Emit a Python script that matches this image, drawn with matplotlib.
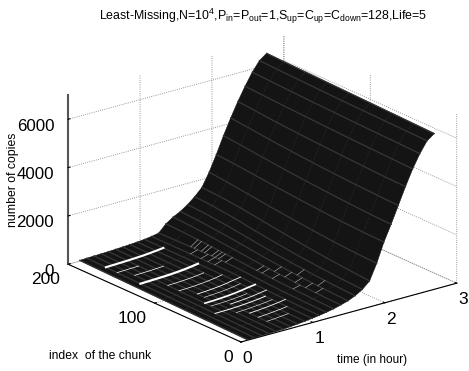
import matplotlib
matplotlib.use('Agg')
import matplotlib.pyplot as plt
import numpy as np
from mpl_toolkits.mplot3d import proj3d

plt.rcParams['font.family'] = ['Liberation Sans', 'DejaVu Sans']
plt.rcParams['mathtext.fontset'] = 'custom'
plt.rcParams['mathtext.rm'] = 'Liberation Sans'
plt.rcParams['mathtext.default'] = 'rm'

# hours, one column per mesh line
times = [0.1, 0.2, 0.3, 0.4, 0.5, 0.6, 0.7, 0.8, 0.9, 1.0, 1.1, 1.2, 1.3, 1.4,
         1.5, 1.6, 1.7, 1.8, 1.9, 2.0, 2.1, 2.2, 2.3, 2.4, 2.5, 2.6, 2.7]
chunks = [1, 25, 50, 75, 100, 125, 150, 175, 195]
copies = [
    [0, 0, 5, 10, 20, 30, 50, 80, 110, 150, 190, 240, 300, 380, 470, 600, 780, 1050, 1700, 2500, 3150, 3850, 4550, 5200, 5750, 6200, 6420],
    [20, 20, 25, 30, 40, 50, 70, 100, 130, 170, 210, 260, 330, 410, 510, 640, 830, 1120, 1730, 2520, 3180, 3880, 4570, 5230, 5780, 6220, 6445],
    [40, 45, 50, 55, 60, 75, 95, 120, 150, 190, 240, 290, 370, 450, 560, 700, 900, 1200, 1790, 2560, 3230, 3920, 4610, 5260, 5800, 6240, 6470],
    [60, 65, 70, 75, 85, 100, 120, 150, 190, 240, 280, 340, 420, 520, 630, 780, 980, 1300, 1870, 2620, 3290, 3970, 4650, 5290, 5830, 6260, 6495],
    [80, 85, 90, 100, 110, 125, 150, 180, 220, 280, 330, 400, 490, 600, 720, 880, 1090, 1420, 1960, 2690, 3360, 4030, 4700, 5330, 5860, 6280, 6520],
    [100, 105, 115, 125, 135, 150, 170, 200, 240, 290, 340, 440, 560, 690, 830, 1000, 1210, 1540, 2060, 2770, 3440, 4100, 4750, 5370, 5890, 6310, 6545],
    [120, 125, 135, 145, 155, 170, 190, 215, 250, 290, 340, 430, 620, 780, 930, 1120, 1350, 1670, 2170, 2860, 3530, 4180, 4810, 5410, 5930, 6340, 6570],
    [140, 150, 160, 170, 180, 195, 210, 235, 265, 300, 340, 410, 670, 860, 1010, 1210, 1450, 1760, 2280, 2950, 3630, 4280, 4890, 5460, 5970, 6370, 6595],
    [160, 170, 180, 190, 200, 215, 230, 250, 270, 300, 340, 400, 700, 900, 1050, 1250, 1500, 1800, 2350, 3000, 3700, 4350, 4950, 5500, 6000, 6400, 6620],
]
# (chunk index, first hour, last hour) of the gaps in the mesh
gap_chunk = [173, 133, 75, 55, 160, 148, 118, 105, 92, 62, 40, 30, 20, 84, 68, 47]
gap_start = [0.2, 0.2, 0.4, 0.3, 0.2, 0.3, 0.4, 0.4, 0.5, 0.6, 0.6, 0.6, 0.6, 0.5, 0.4, 0.5]
gap_end = [1.0, 1.0, 1.1, 1.0, 0.5, 0.7, 0.9, 1.0, 1.1, 1.1, 1.1, 1.0, 0.9, 1.0, 0.9, 1.0]
gap_width = [1.5, 1.6, 1.2, 0.7, 0.5, 0.5, 0.5, 0.5, 0.6, 0.6, 0.6, 0.5, 0.4, 0.4, 0.4, 0.4]
# short bright dashes where the mesh opens up on the first rise
dash_chunk = [118, 122, 126, 130, 134, 138, 142, 146, 150, 154, 158, 30, 36, 42, 48, 54, 60, 66, 72, 78, 84, 90]
dash_start = [1.2, 1.1, 1.2, 1.1, 1.2, 1.1, 1.2, 1.2, 1.1, 1.2, 1.2, 1.4, 1.5, 1.4, 1.3, 1.4, 1.5, 1.4, 1.3, 1.4, 1.3, 1.3]
dash_end = [1.3, 1.2, 1.3, 1.3, 1.3, 1.2, 1.3, 1.3, 1.2, 1.3, 1.3, 1.5, 1.6, 1.5, 1.4, 1.5, 1.6, 1.5, 1.4, 1.5, 1.4, 1.4]

T, C = np.meshgrid(times, chunks)
Z = np.array(copies, dtype=float)

fig = plt.figure(figsize=(4.69, 3.71), dpi=100)
ax = fig.add_axes([0.0, 0.0, 1.0, 1.0], projection='3d', proj_type='ortho', computed_zorder=False)
ax.view_init(elev=20.5, azim=-127.9)
ax.set_box_aspect((274, 282, 181), zoom=1.13)
ax.set_xlim(0, 3)
ax.set_ylim(0, 200)
ax.set_zlim(0, 7000)

ax.plot_surface(T, C, Z, color='#141414', shade=False, rstride=1, cstride=1,
                edgecolor='#141414', linewidth=0.4, zorder=2)
for k in range(len(times)):
    ax.plot(T[:, k], C[:, k], Z[:, k], color='#363636', lw=0.9, zorder=3)


def mark_on_surface(c, t0, t1, width, colour):
    row = [np.interp(c, chunks, Z[:, k]) for k in range(len(times))]
    ts = [t for t in times if t0 <= t <= t1]
    zs = [row[times.index(t)] for t in ts]
    ax.plot(ts, [c] * len(ts), zs, color=colour, lw=width, zorder=4)


for c, t0, t1, w in zip(gap_chunk, gap_start, gap_end, gap_width):
    mark_on_surface(c, t0, t1, w, 'white')
for c, t0, t1 in zip(dash_chunk, dash_start, dash_end):
    mark_on_surface(c, t0, t1, 0.4, '#bbbbbb')

ax.set_xticks([0, 1, 2, 3])
ax.set_yticks([0, 100, 200])
ax.set_zticks([0, 2000, 4000, 6000])
ax.xaxis.set_tick_params(labelsize=12.5, pad=-3)
ax.yaxis.set_tick_params(labelsize=12.5, pad=-3)
ax.zaxis.set_tick_params(labelsize=12.2, pad=-3)
for label in ax.yaxis.get_majorticklabels() + ax.zaxis.get_majorticklabels():
    label.set_ha('right')
for axis in (ax.xaxis, ax.yaxis, ax.zaxis):
    axis.set_pane_color((1, 1, 1, 0))
    axis.pane.set_edgecolor((1, 1, 1, 0))
    axis._axinfo['grid'].update(color='#777777', linestyle=':', linewidth=0.6)
    axis._axinfo['tick'].update(inward_factor=0.0, outward_factor=0.1)
ax.zaxis.line.set_color('#555555')
ax.zaxis.line.set_linewidth(1.5)

fig.text(0.561, 0.956, r'Least-Missing,N=10$^{4}$,P$_{in}$=P$_{out}$=1,S$_{up}$=C$_{up}$=C$_{down}$=128,Life=5',
         ha='center', va='center', fontsize=8.9)
fig.text(0.213, 0.040, 'index  of the chunk', ha='center', va='center', fontsize=8.7)
fig.text(0.793, 0.030, 'time (in hour)', ha='center', va='center', fontsize=8.6)
fig.text(0.028, 0.515, 'number of copies', ha='center', va='center', rotation=90, fontsize=8.8)

fig.canvas.draw()
# shift the axes so that the origin corner falls where it should
def corner(x, y, z):
    a, b, _ = proj3d.proj_transform(x, y, z, ax.get_proj())
    return ax.transData.transform((a, b))
o = corner(0, 0, 0)
dx = (241 - o[0]) / fig.bbox.width
dy = ((371 - 342) - o[1]) / fig.bbox.height
ax.set_position([dx, dy, 1.0, 1.0])

fig.savefig('out.png', dpi=100)
